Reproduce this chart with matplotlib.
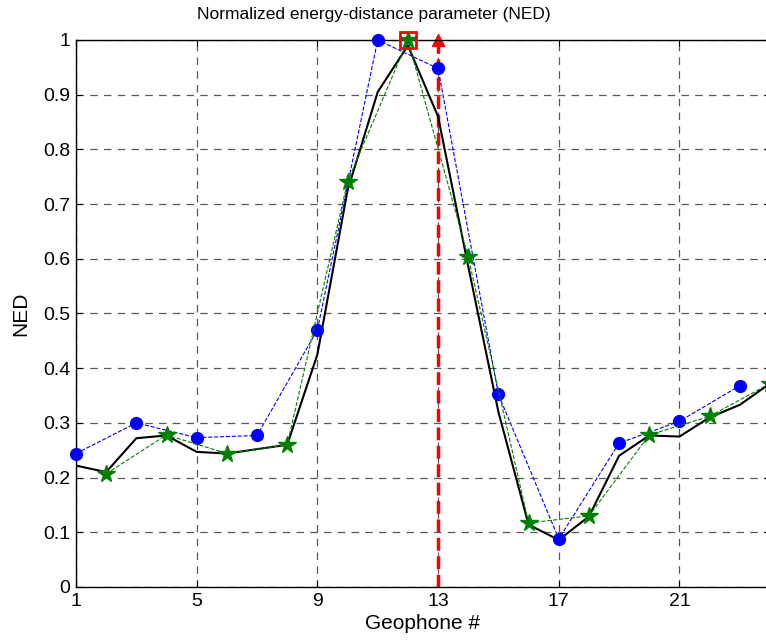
import numpy as np
import matplotlib
matplotlib.use('Agg')
import matplotlib.pyplot as plt

plt.rcParams['font.family'] = ['Liberation Sans', 'DejaVu Sans']

# --- Data ---
geophone = np.arange(1, 25)
ned_black = [0.222, 0.21, 0.272, 0.277, 0.247, 0.244, 0.252, 0.26, 0.425, 0.725,
             0.905, 0.99, 0.86, 0.586, 0.32, 0.114, 0.086, 0.129, 0.24, 0.277,
             0.275, 0.31, 0.333, 0.372]
blue_x = [1, 3, 5, 7, 9, 11, 13, 15, 17, 19, 21, 23]
blue_y = [0.244, 0.30, 0.273, 0.277, 0.47, 1.0, 0.948, 0.352, 0.088, 0.263, 0.303, 0.368]
green_x = [2, 4, 6, 8, 10, 12, 14, 16, 18, 20, 22, 24]
green_y = [0.207, 0.278, 0.244, 0.26, 0.741, 1.0, 0.603, 0.117, 0.13, 0.278, 0.312, 0.372]
peak_x, peak_y = 12, 1.0
arrow_x = 13
xticks = [1, 5, 9, 13, 17, 21]
yticks = np.round(np.arange(0, 1.01, 0.1), 1)

fig = plt.figure(figsize=(7.66, 6.43), dpi=100)
ax = fig.add_axes([0.0992, 0.0871, 0.906, 0.8507])

# red vertical arrow at the picked geophone
ax.plot([arrow_x, arrow_x], [0, 1], '--', color='red', lw=2.5, zorder=2)
ax.plot(arrow_x, 1, '^', color='red', ms=9, zorder=2, clip_on=False)

ax.plot(geophone, ned_black, '-', color='black', lw=1.5, zorder=3)
ax.plot(blue_x, blue_y, '--', color='blue', lw=0.8, marker='o', ms=8.5,
        markeredgecolor='blue', zorder=4, clip_on=False)
ax.plot(green_x, green_y, '--', color='green', lw=0.8, marker='*', ms=13,
        markeredgecolor='green', zorder=4, clip_on=False)
ax.plot(peak_x, peak_y, 's', mfc='none', mec='red', ms=11, mew=2, zorder=5,
        clip_on=False)

ax.set_xlim(1, 24)
ax.set_ylim(0, 1)
ax.set_xticks(xticks)
ax.set_yticks(yticks)
ax.set_yticklabels(['0'] + [f'{v:g}' for v in yticks[1:-1]] + ['1'])
ax.tick_params(direction='in', length=4, labelsize=14, pad=4, top=True, right=True)
ax.grid(True, ls=(0, (6, 5)), color='0.35', lw=0.9)
for s in ax.spines.values():
    s.set_linewidth(1.0)
    s.set_color('black')

# title sits left of the axes centre in the reference
fig.text(374 / 766, 1 - 14 / 643, 'Normalized energy-distance parameter (NED)',
         fontsize=12.5, ha='center', va='center')
ax.set_xlabel('Geophone #', fontsize=15, labelpad=3)
ax.set_ylabel('NED', fontsize=15, labelpad=9)

fig.savefig('out.png', dpi=100)
